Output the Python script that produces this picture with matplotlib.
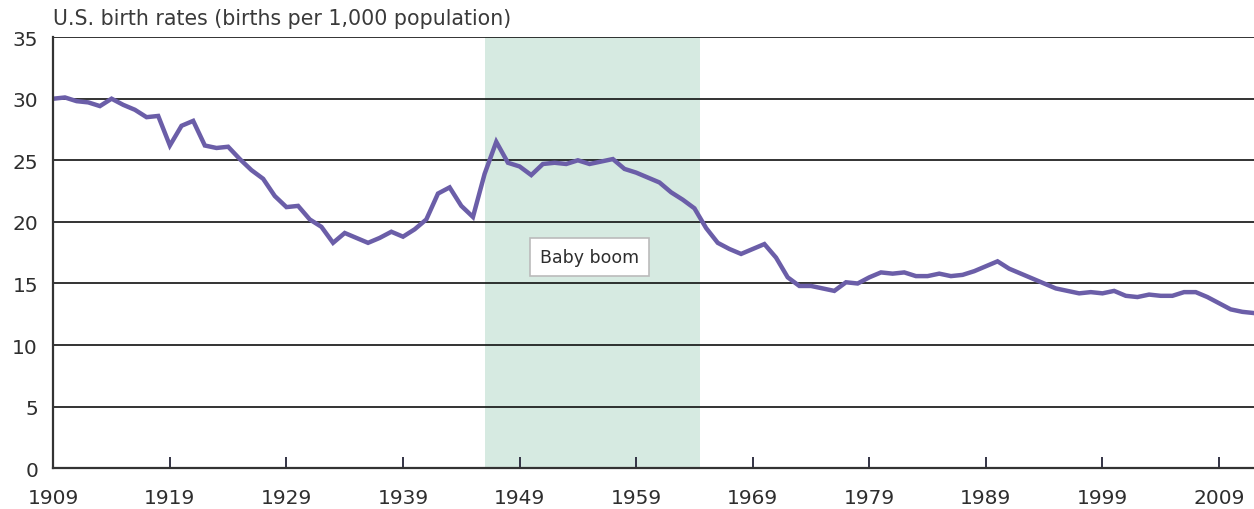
import matplotlib
matplotlib.use("Agg")
import matplotlib.pyplot as plt

years = list(range(1909, 2013))
birth_rate = [
    30.0, 30.1, 29.8, 29.7, 29.4, 30.0, 29.5, 29.1, 28.5, 28.6,  # 1909-1918
    26.2, 27.8, 28.2, 26.2, 26.0, 26.1, 25.1, 24.2, 23.5, 22.1,  # 1919-1928
    21.2, 21.3, 20.2, 19.6, 18.3, 19.1, 18.7, 18.3, 18.7, 19.2,  # 1929-1938
    18.8, 19.4, 20.2, 22.3, 22.8, 21.3, 20.4, 23.9, 26.5, 24.8,  # 1939-1948
    24.5, 23.8, 24.7, 24.8, 24.7, 25.0, 24.7, 24.9, 25.1, 24.3,  # 1949-1958
    24.0, 23.6, 23.2, 22.4, 21.8, 21.1, 19.5, 18.3, 17.8, 17.4,  # 1959-1968
    17.8, 18.2, 17.1, 15.5, 14.8, 14.8, 14.6, 14.4, 15.1, 15.0,  # 1969-1978
    15.5, 15.9, 15.8, 15.9, 15.6, 15.6, 15.8, 15.6, 15.7, 16.0,  # 1979-1988
    16.4, 16.8, 16.2, 15.8, 15.4, 15.0, 14.6, 14.4, 14.2, 14.3,  # 1989-1998
    14.2, 14.4, 14.0, 13.9, 14.1, 14.0, 14.0, 14.3, 14.3, 13.9,  # 1999-2008
    13.4, 12.9, 12.7, 12.6,                                      # 2009-2012
]
xtick_years = [1909, 1919, 1929, 1939, 1949, 1959, 1969, 1979, 1989, 1999, 2009]
yticks = [0, 5, 10, 15, 20, 25, 30, 35]
boom_start, boom_end = 1946, 1964.5
title = "U.S. birth rates (births per 1,000 population)"
annotation = "Baby boom"

plt.rcParams['font.family'] = ['DejaVu Sans']
fig = plt.figure(figsize=(12.54, 5.10), dpi=100)
ax = fig.add_axes([0.0425, 0.0798, 0.9575, 0.8455])

ax.axvspan(boom_start, boom_end, color="#d6eae1", zorder=0, lw=0)
for y in yticks[1:]:
    ax.axhline(y, color="#111111", lw=1.2, zorder=1)

ax.plot(years, birth_rate, color="#6b5ea8", lw=3.2, zorder=3,
        solid_joinstyle="miter")

ax.set_xlim(1909, 2012)
ax.set_ylim(0, 35)
ax.set_xticks(xtick_years)
ax.set_xticklabels([str(y) for y in xtick_years])
ax.set_yticks(yticks)

for side in ["top", "right"]:
    ax.spines[side].set_visible(False)
for side in ["left", "bottom"]:
    ax.spines[side].set_color("#333333")
    ax.spines[side].set_linewidth(1.6)
    ax.spines[side].set_zorder(4)

ax.tick_params(axis="x", direction="in", length=8, width=1.4, color="#333344",
               labelsize=14.5, labelcolor="#2e2e2e", pad=14)
ax.tick_params(axis="y", length=0, labelsize=14.5, labelcolor="#2e2e2e", pad=11)

ax.text(1955.0, 17.15, annotation, ha="center", va="center", fontsize=12.5,
        color="#2e2e2e", zorder=5,
        bbox=dict(boxstyle="square,pad=0.55", fc="white", ec="#bbbbbb", lw=1.2))

fig.text(0.0425, 0.962, title, ha="left", va="center", fontsize=14.8,
         color="#3a3a3a")

fig.savefig("out.png", dpi=100)
